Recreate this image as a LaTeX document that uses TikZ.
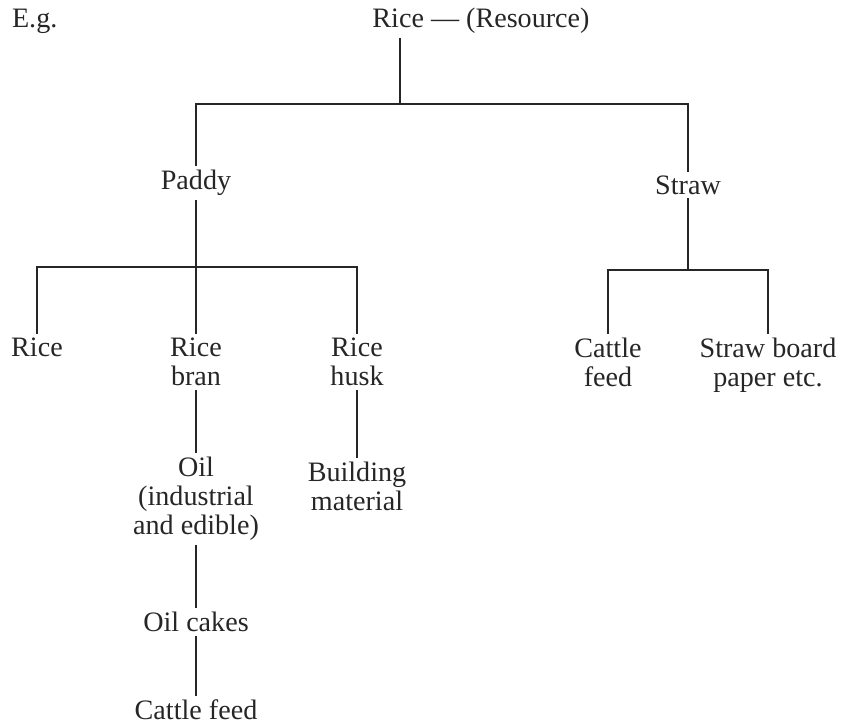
\documentclass[tikz,border=0pt]{standalone}
\usepackage{fontspec}
\setmainfont{Liberation Serif}
\tikzset{every path/.style={black!85,line width=0.9pt}, every node/.style={align=center, inner sep=3pt, font=\fontsize{24}{24.7}\selectfont}}

\begin{document}
\begin{tikzpicture}[x=0.03cm,y=-0.03cm]
   \useasboundingbox (0,0) rectangle (843,727);
   \node[anchor=west] (eg) at (8,21) {E.g.};
   \node (res)      at (481, 21) {Rice --- (Resource)};
   \node (paddy)    at (196,183) {Paddy};
   \node (straw)    at (688,185) {Straw};
   \node (rice)     at ( 37,347) {Rice};
   \node (bran)     at (196,362) {Rice\\bran};
   \node (husk)     at (357,362) {Rice\\husk};
   \node (cattle)   at (608,362) {Cattle\\feed};
   \node (board)    at (768,365) {Straw board\\paper etc.};
   \node (oil)      at (196,499) {Oil\\(industrial\\and edible)};
   \node (building) at (357,486) {Building\\material};
   \node (cakes)    at (196,622) {Oil cakes};
   \node (feed)     at (196,710) {Cattle feed};
   \coordinate (j1) at (400,104);
   \coordinate (j2) at (196,267);
   \coordinate (j3) at (688,270);
   \draw (j1 |- res.south) -- (j1);
   \draw (paddy) |- (j1) -| (straw);
   \draw (paddy) -- (j2);
   \draw (rice) |- (j2) -| (husk);
   \draw (j2) -- (bran);
   \draw (straw) -- (j3);
   \draw (cattle) |- (j3) -| (board);
   \draw (bran) -- (oil);
   \draw (oil) -- (cakes);
   \draw (cakes) -- (feed);
   \draw (husk) -- (building);
\end{tikzpicture}
\end{document}
